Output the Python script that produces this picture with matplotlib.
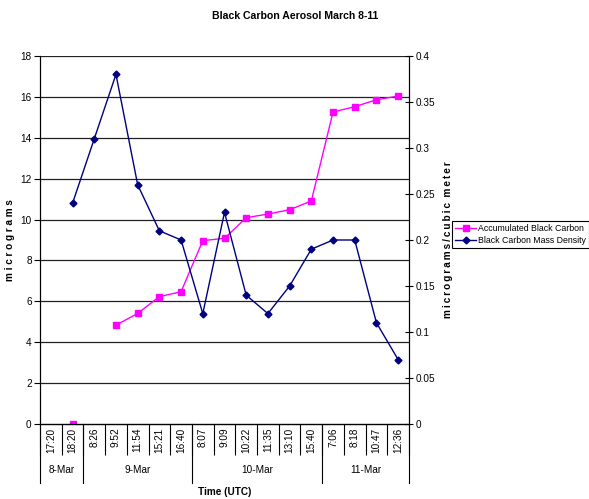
import matplotlib
matplotlib.use("Agg")
import matplotlib.pyplot as plt
import numpy as np

plt.rcParams['font.family'] = ['Liberation Sans', 'DejaVu Sans']

times = ["17:20", "18:20", "8:26", "9:52", "11:54", "15:21", "16:40",
         "8:07", "9:09", "10:22", "11:35", "13:10", "15:40",
         "7:06", "8:18", "10:47", "12:36"]
dates = ["8-Mar", "9-Mar", "10-Mar", "11-Mar"]
date_counts = [2, 5, 6, 4]

nan = np.nan
accumulated = [nan, 0.0, nan, 4.83, 5.41, 6.23, 6.47, 8.97, 9.08, 10.09,
               10.27, 10.48, 10.91, 15.26, 15.52, 15.86, 16.04]
density = [nan, 0.24, 0.31, 0.38, 0.26, 0.21, 0.20, 0.12, 0.23, 0.14,
           0.12, 0.15, 0.19, 0.20, 0.20, 0.11, 0.07]

fig = plt.figure(figsize=(5.89, 4.99), dpi=100)
ax = fig.add_axes([40/589, 75/499, 369/589, 368/499])
ax2 = ax.twinx()

x = np.arange(len(times))
l1, = ax.plot(x, accumulated, color='#FF00FF', marker='s', markersize=5,
              linewidth=1, label='Accumulated Black Carbon')
l2, = ax2.plot(x, density, color='#000080', marker='D', markersize=3.5,
               linewidth=1, label='Black Carbon Mass Density')

ax.set_xlim(-0.5, len(times) - 0.5)
ax.set_ylim(0, 18)
ax.set_yticks(np.arange(0, 19, 2))
ax2.set_ylim(0, 0.4)
ax2.set_yticks(np.arange(0, 0.41, 0.05))
ax2.set_yticklabels(["0", "0.05", "0.1", "0.15", "0.2", "0.25", "0.3", "0.35", "0.4"])

for y in np.arange(2, 19, 2):
    ax.axhline(y, color='#222222', linewidth=0.9, zorder=0)

for a in (ax, ax2):
    a.spines['top'].set_visible(False)
    a.spines['bottom'].set_visible(False)
ax.tick_params(axis='y', labelsize=7.2, length=4, width=0.8, pad=2)
ax2.tick_params(axis='y', labelsize=7.2, length=6, width=0.8, pad=2,
                direction='inout')

# category axis: boundary ticks, rotated times, then date groups
ax.set_xticks(np.arange(-0.5, len(times), 1))
ax.tick_params(axis='x', length=22, width=0.8, labelbottom=False)
ax.axhline(0, color='black', linewidth=1, clip_on=False, zorder=3)
trans = ax.get_xaxis_transform()
for i, t in enumerate(times):
    ax.text(i, -0.01, t, rotation=90, ha='center', va='top',
            fontsize=7.2, transform=trans)

edges = np.concatenate([[0], np.cumsum(date_counts)]) - 0.5
for e in edges:
    ax.plot([e, e], [0, -0.16], color='black', linewidth=0.8,
            transform=trans, clip_on=False)
for d, lo, hi in zip(dates, edges[:-1], edges[1:]):
    ax.text((lo + hi) / 2, -0.125, d, ha='center', va='center',
            fontsize=7.2, transform=trans)

ax.text(0.5, -0.185, "Time (UTC)", ha='center', va='center', fontsize=7.2,
        fontweight='bold', transform=ax.transAxes)
ax.set_ylabel("m i c r o g r a m s", fontsize=7.2, fontweight='bold')
ax.yaxis.set_label_coords(-0.068, 0.5)
ax2.set_ylabel("\u2009".join("micrograms/cubic") + "  " + "\u2009".join("meter"),
               fontsize=7.2, fontweight='bold')
ax2.yaxis.set_label_coords(1.093, 0.5)

fig.text(295/589, 1 - 16/499, "Black Carbon Aerosol March 8-11", ha='center',
         va='center', fontsize=7.6, fontweight='bold')

leg = fig.legend(handles=[l1, l2], loc='upper left',
                 bbox_to_anchor=(452/589, 1 - 221/499), fontsize=6.3,
                 frameon=True, fancybox=False, edgecolor='black',
                 framealpha=1, borderaxespad=0, handlelength=2.4,
                 borderpad=0.35, labelspacing=0.35, handletextpad=0.2)
leg.get_frame().set_linewidth(0.8)

fig.savefig("out.png", dpi=100)
